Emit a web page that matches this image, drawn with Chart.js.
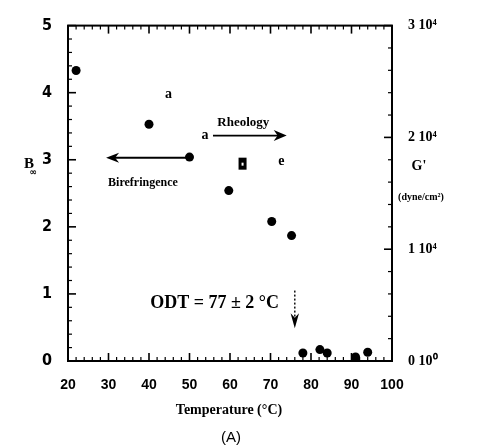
<!DOCTYPE html>
<html><head><meta charset="utf-8">
<script src="https://cdn.jsdelivr.net/npm/chart.js@4"></script>
<style>html,body{margin:0;padding:0;background:#fff}#c{display:block}</style>
</head><body>
<canvas id="c" width="489" height="446"></canvas>
<script>
// ---- data ----
const temperatureBirefringence = [22, 40, 50, 59.7, 70.3, 75.2, 78, 82.2, 84, 91, 94];
const bInfinity = [4.33, 3.53, 3.04, 2.54, 2.08, 1.87, 0.12, 0.17, 0.12, 0.06, 0.13];
const temperatureRheology = [44.8, 53.8, 63.1, 72.7];
const gPrime = [23800, 20100, 17650, 17750];
const rheologyGlyphs = ['a', 'a', '■', 'e'];
const xTickValues = [20, 30, 40, 50, 60, 70, 80, 90, 100];
const yTickValues = [0, 1, 2, 3, 4, 5];
const y2TickValues = [0, 10000, 20000, 30000];
const y2TickLabels = ['0 10⁰', '1 10⁴', '2 10⁴', '3 10⁴'];

const SERIF = '"Liberation Serif", "Times New Roman", serif';

function seg(ctx, x1, y1, x2, y2) { ctx.beginPath(); ctx.moveTo(x1, y1); ctx.lineTo(x2, y2); ctx.stroke(); }
function head(ctx, tx, ty, dx, dy, len, half) {
  const px = -dy, py = dx;
  ctx.beginPath();
  ctx.moveTo(tx, ty);
  ctx.lineTo(tx - dx * len + px * half, ty - dy * len + py * half);
  ctx.lineTo(tx - dx * len * 0.7, ty - dy * len * 0.7);
  ctx.lineTo(tx - dx * len - px * half, ty - dy * len - py * half);
  ctx.closePath(); ctx.fill();
}

const decor = {
  id: 'decor',
  beforeDatasetsDraw(chart) {
    const { ctx, chartArea: a, scales: { x, y, y2 } } = chart;
    ctx.save();
    ctx.strokeStyle = '#000';
    ctx.lineWidth = 2;
    ctx.strokeRect(a.left, a.top, a.right - a.left, a.bottom - a.top);
    for (let i = 0; i <= 40; i++) {
      const v = 20 + i * 2, px = x.getPixelForValue(v), major = (i % 5 === 0), L = major ? 8 : 4;
      ctx.lineWidth = major ? 1.6 : 1.2;
      seg(ctx, px, a.bottom, px, a.bottom - L);
      seg(ctx, px, a.top, px, a.top + L);
    }
    for (let i = 0; i <= 25; i++) {
      const py = y.getPixelForValue(i * 0.2), major = (i % 5 === 0), L = major ? 8 : 4;
      ctx.lineWidth = major ? 1.6 : 1.2;
      seg(ctx, a.left, py, a.left + L, py);
    }
    for (let i = 0; i <= 15; i++) {
      const py = y2.getPixelForValue(i * 2000), major = (i % 5 === 0), L = major ? 8 : 4;
      ctx.lineWidth = major ? 1.6 : 1.2;
      seg(ctx, a.right, py, a.right - L, py);
    }
    ctx.restore();
  },
  afterDatasetsDraw(chart) {
    const { ctx, scales: { x, y, y2 } } = chart;
    ctx.save();
    ctx.fillStyle = '#000'; ctx.strokeStyle = '#000';
    ctx.textAlign = 'center'; ctx.textBaseline = 'middle';
    rheologyGlyphs.forEach((g, i) => {
      const px = x.getPixelForValue(temperatureRheology[i]);
      const py = y2.getPixelForValue(gPrime[i]);
      if (g === '■') {
        ctx.fillRect(px - 4, py - 6, 8, 12);
        ctx.fillStyle = '#fff'; ctx.fillRect(px - 1, py - 1, 2, 3); ctx.fillStyle = '#000';
      } else {
        ctx.font = 'bold 14px ' + SERIF;
        ctx.fillText(g, px, py - 1);
      }
    });
    ctx.lineWidth = 1.8;
    let yA = y.getPixelForValue(3.03);
    let x1 = x.getPixelForValue(49.3), x2 = x.getPixelForValue(29.4);
    seg(ctx, x1, yA, x2 + 8, yA);
    head(ctx, x2, yA, -1, 0, 13, 5);
    ctx.font = 'bold 12px ' + SERIF;
    ctx.fillText('Birefringence', x.getPixelForValue(38.5), y.getPixelForValue(2.65));
    let yB = y.getPixelForValue(3.36);
    x1 = x.getPixelForValue(55.8); x2 = x.getPixelForValue(74);
    seg(ctx, x1, yB, x2 - 8, yB);
    head(ctx, x2, yB, 1, 0, 13, 5.5);
    ctx.font = 'bold 13px ' + SERIF;
    ctx.fillText('Rheology', x.getPixelForValue(63.3), y.getPixelForValue(3.56));
    ctx.font = 'bold 18px ' + SERIF;
    ctx.textAlign = 'left';
    ctx.fillText('ODT = 77 ± 2 °C', x.getPixelForValue(40.3), y.getPixelForValue(0.86));
    const xo = x.getPixelForValue(76);
    ctx.lineWidth = 1.4; ctx.setLineDash([2, 2]);
    seg(ctx, xo, y.getPixelForValue(1.05), xo, y.getPixelForValue(0.62));
    ctx.setLineDash([]);
    head(ctx, xo, y.getPixelForValue(0.49), 0, 1, 15, 4.2);
    ctx.restore();
  },
  afterDraw(chart) {
    const { ctx } = chart;
    ctx.save();
    ctx.fillStyle = '#000';
    ctx.textBaseline = 'middle'; ctx.textAlign = 'center';
    ctx.font = 'bold 15px ' + SERIF;
    ctx.fillText('B', 29, 164);
    ctx.font = 'bold 9px "DejaVu Sans", sans-serif';
    ctx.fillText('∞', 33, 173);
    ctx.font = 'bold 14px ' + SERIF;
    ctx.fillText('G\'', 419, 166);
    ctx.font = 'bold 10px ' + SERIF;
    ctx.fillText('(dyne/cm²)', 421, 197);
    ctx.font = 'bold 14px ' + SERIF;
    ctx.fillText('Temperature (°C)', 229, 410);
    ctx.font = '15px "Liberation Sans", Arial, sans-serif';
    ctx.fillText('(A)', 231, 438);
    ctx.restore();
  }
};

const chart = new Chart(document.getElementById('c'), {
  type: 'scatter',
  data: {
    datasets: [{
      label: 'B∞',
      data: temperatureBirefringence.map((t, i) => ({ x: t, y: bInfinity[i] })),
      backgroundColor: '#000', borderColor: '#000',
      pointRadius: 4.5, pointHoverRadius: 4.5, pointBorderWidth: 0,
      yAxisID: 'y', clip: false
    }, {
      label: "G'",
      data: temperatureRheology.map((t, i) => ({ x: t, y: gPrime[i] })),
      pointRadius: 0, pointHoverRadius: 0,
      yAxisID: 'y2', clip: false
    }]
  },
  plugins: [decor],
  options: {
    responsive: false, animation: false, devicePixelRatio: 1,
    layout: { padding: { top: 23, left: 0, right: 0, bottom: 0 } },
    plugins: { legend: { display: false }, tooltip: { enabled: false } },
    scales: {
      x: {
        type: 'linear', position: 'bottom', min: 20, max: 100,
        afterBuildTicks: s => { s.ticks = xTickValues.map(v => ({ value: v })); },
        afterFit: s => { s.height = 85; },
        grid: { display: true, drawOnChartArea: false, drawTicks: false },
        border: { display: false },
        ticks: { padding: 16, maxRotation: 0, autoSkip: false, color: '#000',
          font: { family: '"Liberation Sans", Arial, sans-serif', weight: 'bold', size: 14 } }
      },
      y: {
        type: 'linear', position: 'left', min: 0, max: 5,
        afterBuildTicks: s => { s.ticks = yTickValues.map(v => ({ value: v })); },
        afterFit: s => { s.width = 68; },
        grid: { display: true, drawOnChartArea: false, drawTicks: false },
        border: { display: false },
        ticks: { padding: 16, color: '#000',
          font: { family: '"Liberation Sans Narrow", "DejaVu Sans Condensed", "Liberation Sans", sans-serif', weight: 'bold', size: 16 } }
      },
      y2: {
        type: 'linear', position: 'right', min: 0, max: 30000,
        afterBuildTicks: s => { s.ticks = y2TickValues.map(v => ({ value: v })); },
        afterFit: s => { s.width = 97; },
        grid: { display: true, drawOnChartArea: false, drawTicks: false },
        border: { display: false },
        ticks: { padding: 16, color: '#000',
          callback: v => y2TickLabels[y2TickValues.indexOf(v)],
          font: { family: SERIF, weight: 'bold', size: 14 } }
      }
    }
  }
});
</script>
</body></html>
